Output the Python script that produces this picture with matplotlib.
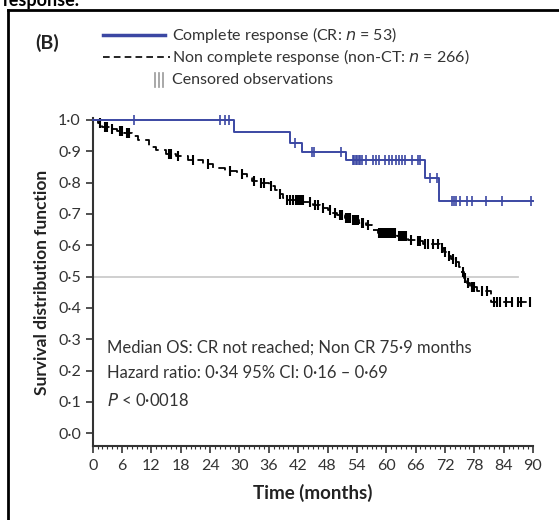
import numpy as np
import matplotlib
matplotlib.use("Agg")
import matplotlib.pyplot as plt
from matplotlib.lines import Line2D

plt.rcParams["font.family"] = ["Lato", "DejaVu Sans"]

# Complete response (CR) step curve: event times and survival after each step
cr_times = [0, 28.8, 40.4, 42.8, 51.8, 67.9, 70.7, 90.0]
cr_surv = [1.0, 0.961, 0.925, 0.897, 0.872, 0.816, 0.742, 0.742]
cr_censor = [8.4, 26.1, 27.0, 27.8, 41.4, 44.9, 45.3, 50.7, 53.2, 53.5, 53.8,
             54.1, 54.4, 54.7, 55.0, 55.8, 57.3, 58.0, 58.5, 59.7, 60.5, 61.2,
             61.9, 62.6, 63.3, 63.9, 65.3, 66.5, 66.8, 68.9, 70.4, 73.4, 73.8,
             74.2, 75.1, 76.6, 77.6, 80.4, 83.6, 89.6]

# Non complete response step curve
ncr_times = [0, 1.0, 2.0, 3.5, 5.0, 6.5, 8.0, 9.3, 11.5, 13.0, 15.0, 17.0,
             19.5, 22.5, 24.5, 27.0, 29.5, 31.5, 32.5, 34.0, 36.0, 37.3, 38.0,
             38.8, 39.5, 43.0, 45.0, 46.5, 48.0, 49.0, 50.0, 51.5, 53.0, 54.5,
             55.8, 57.0, 58.3, 62.3, 64.5, 66.0, 67.5, 71.0, 71.8, 72.5, 73.3,
             74.0, 74.8, 75.3, 75.9, 76.5, 77.2, 78.5, 81.5, 89.5]
ncr_surv = [1.0, 0.99, 0.978, 0.972, 0.965, 0.958, 0.950, 0.935, 0.915, 0.905,
            0.890, 0.884, 0.872, 0.860, 0.848, 0.838, 0.828, 0.815, 0.805,
            0.798, 0.790, 0.775, 0.765, 0.752, 0.745, 0.738, 0.728, 0.720,
            0.712, 0.703, 0.695, 0.688, 0.680, 0.672, 0.664, 0.650, 0.638,
            0.628, 0.618, 0.612, 0.605, 0.590, 0.578, 0.565, 0.555, 0.545,
            0.530, 0.515, 0.495, 0.478, 0.468, 0.455, 0.418, 0.418]
ncr_censor = [1.5, 2.5, 3.0, 4.0, 5.5, 6.0, 7.0, 7.5, 15.5, 16.0, 17.5, 20.5,
              23.5, 28.0, 30.5, 33.0, 34.5, 35.0, 36.5, 38.3, 39.8, 40.3, 41.0,
              41.5, 42.0, 42.3, 42.6, 42.9, 44.5, 45.5, 46.0, 47.0, 48.5, 49.5,
              50.5, 51.0, 51.8, 52.2, 52.6, 53.3, 53.6, 54.0, 54.3, 55.0, 55.3,
              56.3, 58.5, 58.8, 59.1, 59.4, 59.7, 60.0, 60.3, 60.6, 60.9, 61.2,
              61.5, 61.8, 62.6, 62.9, 63.2, 63.5, 63.8, 64.1, 65.0, 66.5, 67.0,
              68.0, 68.5, 69.5, 70.5, 71.3, 72.0, 72.8, 73.6, 74.3, 75.6, 76.2,
              76.8, 77.5, 78.0, 79.5, 80.5, 82.0, 82.7, 83.2, 84.5, 85.8, 87.0,
              87.5, 89.4]

x_ticks = list(range(0, 91, 6))
y_ticks = [0.0, 0.1, 0.2, 0.3, 0.4, 0.5, 0.6, 0.7, 0.8, 0.9, 1.0]
y_labels = [f"{v:.1f}".replace(".", "\u00b7") for v in y_ticks]

blue = "#3b47a3"
txt = "#333333"


def surv_at(times, surv, t):
    idx = np.searchsorted(times, t, side="right") - 1
    return np.asarray(surv)[idx]


fig = plt.figure(figsize=(5.59, 5.20), dpi=100)
ax = fig.add_axes([92.7 / 559, 1 - 446 / 520, (533 - 92.7) / 559, 327.6 / 520])

ax.axhline(0.5, xmin=0, xmax=87 / 90, color="#cccccc", lw=1.3, zorder=1)

ax.step(ncr_times, ncr_surv, where="post", color="black", lw=1.3,
        linestyle=(0, (5, 3)), zorder=2)
ax.plot(ncr_censor, surv_at(ncr_times, ncr_surv, ncr_censor), ls="none",
        marker="|", ms=7, mew=1.5, color="black", zorder=3)

ax.step(cr_times, cr_surv, where="post", color=blue, lw=1.4, zorder=4,
        clip_on=False)
ax.plot(cr_censor, surv_at(cr_times, cr_surv, cr_censor), ls="none",
        marker="|", ms=7.5, mew=1.2, color=blue, zorder=5, clip_on=False)

ax.set_xlim(0, 90)
ax.set_ylim(-0.041, 1.005)
ax.set_xticks(x_ticks)
ax.set_xticks(range(0, 91), minor=True)
ax.set_yticks(y_ticks)
ax.set_yticklabels(y_labels)
for s in ["top", "right"]:
    ax.spines[s].set_visible(False)
for s in ["left", "bottom"]:
    ax.spines[s].set_linewidth(1.5)
    ax.spines[s].set_color("#333333")
ax.tick_params(axis="both", which="major", length=5, width=1.2, colors="#333333",
               labelsize=11.5, labelcolor=txt)
ax.tick_params(axis="x", which="minor", length=2.5, width=0.8, colors="#333333")
ax.tick_params(axis="x", pad=4)

ax.set_xlabel("Time (months)", fontsize=13.5, fontweight="bold",
              color="#222222", labelpad=8)
ax.set_ylabel("Survival distribution function", fontsize=12.5,
              fontweight="bold", color="#222222", labelpad=6)

ax.text(3, 0.272, "Median OS: CR not reached; Non CR 75\u00b79 months",
        fontsize=12, color=txt, va="center")
ax.text(3, 0.192, "Hazard ratio: 0\u00b734 95% CI: 0\u00b716 \u2013 0\u00b769",
        fontsize=12, color=txt, va="center")
ax.text(3, 0.105, "$P$ < 0\u00b70018", fontsize=12, color=txt, va="center")

# legend drawn in figure pixels
def fx(px):
    return px / 559


def fy(py):
    return 1 - py / 520


fig.text(fx(35), fy(43), "(B)", fontsize=14, fontweight="bold", color="#222222",
         va="center")
fig.add_artist(Line2D([fx(103), fx(165)], [fy(35), fy(35)], color=blue, lw=2.5))
fig.add_artist(Line2D([fx(103), fx(170)], [fy(57), fy(57)], color="black",
                      lw=1.2, linestyle=(0, (4, 2.5))))
for px in [155, 159, 163]:
    fig.add_artist(Line2D([fx(px), fx(px)], [fy(73), fy(87)], color="#999999",
                          lw=1.2))
fig.text(fx(172), fy(35), "Complete response (CR: $n$ = 53)", fontsize=11.5,
         color=txt, va="center")
fig.text(fx(172), fy(57), "Non complete response (non-CT: $n$ = 266)",
         fontsize=11.5, color=txt, va="center")
fig.text(fx(172), fy(80), "Censored observations", fontsize=11.5, color=txt,
         va="center")

fig.text(0.005, fy(6), "response.", fontsize=13, fontweight="bold",
         color="black", va="baseline")
fig.add_artist(Line2D([fx(8), 1], [fy(10), fy(10)], color="black", lw=2))
fig.add_artist(Line2D([fx(8), fx(8)], [fy(10), 0], color="black", lw=2))

fig.savefig("out.png", dpi=100)
